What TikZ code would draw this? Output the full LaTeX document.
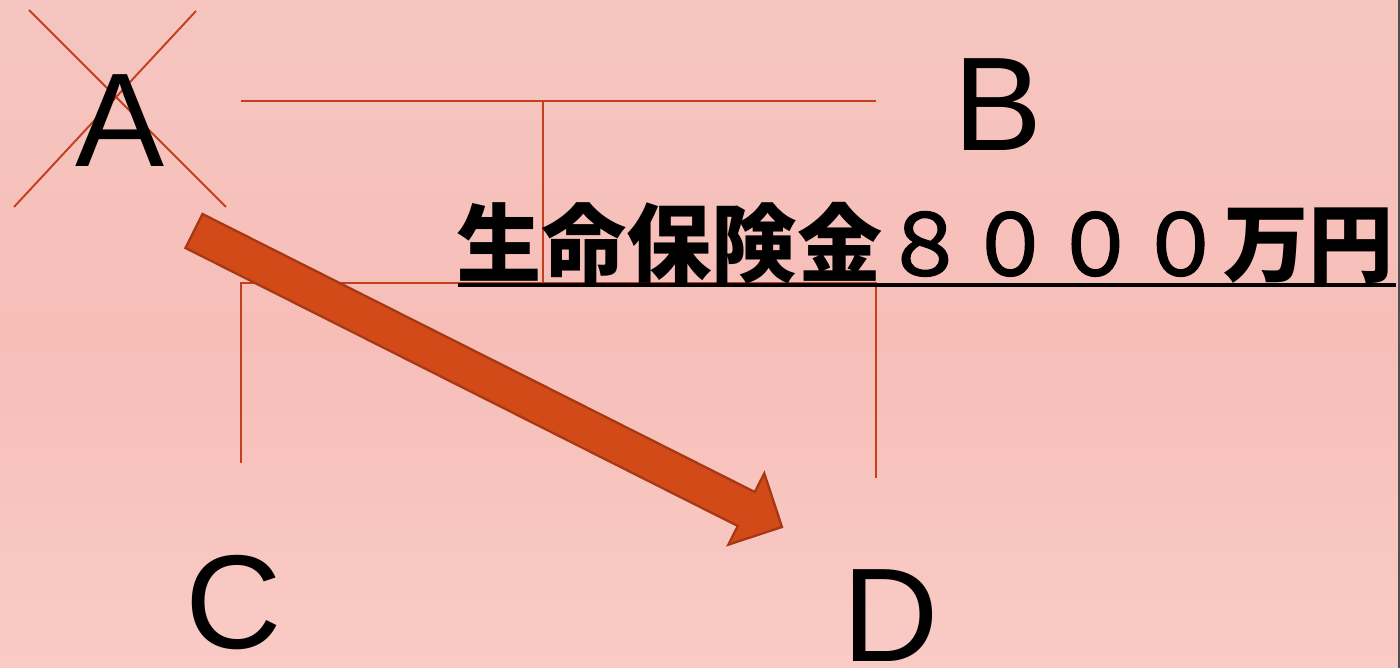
\documentclass[tikz,border=0pt]{standalone}
\usepackage{fontspec}
\setmainfont{Liberation Sans}
\newfontfamily\jpfont{Noto Sans CJK JP}
\newfontfamily\jpdigits{Noto Sans CJK JP}[FakeBold=2]
\definecolor{bgtop}{RGB}{246,197,192}
\definecolor{bgmid}{RGB}{247,190,184}
\definecolor{bgbot}{RGB}{249,203,198}
\definecolor{treeline}{RGB}{196,64,28}
\definecolor{arrfill}{RGB}{210,74,23}
\definecolor{arrdraw}{RGB}{166,56,20}
\definecolor{edgegray}{RGB}{80,80,80}
\tikzset{
  letter/.style={font=\fontsize{76}{80}\selectfont, text=black, inner sep=0pt, anchor=base, text depth=0pt},
  tree/.style={draw=treeline, line width=1.2pt},
  crossline/.style={draw=treeline, line width=1.1pt},
  bigarrow/.style={fill=arrfill, draw=arrdraw, line width=1.3pt, line join=miter},
  money/.style={font=\jpfont\fontsize{48.5}{50}\selectfont, text=black, inner sep=0pt},
  uline/.style={draw=black, line width=1.8pt}
}
\begin{document}
\begin{tikzpicture}[x=0.02cm, y=-0.02cm]
  \useasboundingbox (0,0) rectangle (1400,668);
  \shade[top color=bgtop, bottom color=bgbot, middle color=bgmid] (0,0) rectangle (1400,668);
  \fill[edgegray] (1397.5,0) rectangle (1400,668);

  % tree coordinates
  \coordinate (t1) at (241,101);
  \coordinate (t2) at (876,101);
  \coordinate (s1) at (543,101);
  \coordinate (s2) at (543,283);
  \coordinate (l1) at (241,283);
  \coordinate (l2) at (876,283);
  \coordinate (c1) at (241,463);
  \coordinate (d1) at (876,478);
  \draw[tree] (t1) -- (t2);
  \draw[tree] (s1) -- (s2);
  \draw[tree] (c1) -- (l1) -- (l2) -- (d1);

  % cross over A
  \coordinate (x1) at (29,10);
  \coordinate (x2) at (226,207);
  \coordinate (x3) at (196,11);
  \coordinate (x4) at (14,207);
  \draw[crossline] (x1) -- (x2);
  \draw[crossline] (x3) -- (x4);

  % block arrow
  \draw[bigarrow] (202.5,214) -- (754.8,492) -- (764.3,473.3) -- (782,527)
     -- (728.3,544.7) -- (737.8,526) -- (185.5,248) -- cycle;

  % letters
  \node[letter] (A) at (120,167) {A};
  \node[letter] (B) at (998,151) {B};
  \node[letter] (C) at (234,648) {C};
  \node[letter] (D) at (891,662) {D};

  % money text
  \node[money] (M) at (925,243) {\bfseries 生命保険金\mdseries{\jpdigits\fontsize{48.5}{50}\selectfont ８０００}\bfseries 万円};
  \coordinate (u1) at (458,285);
  \coordinate (u2) at (1396,285);
  \draw[uline] (u1) -- (u2);
\end{tikzpicture}
\end{document}
